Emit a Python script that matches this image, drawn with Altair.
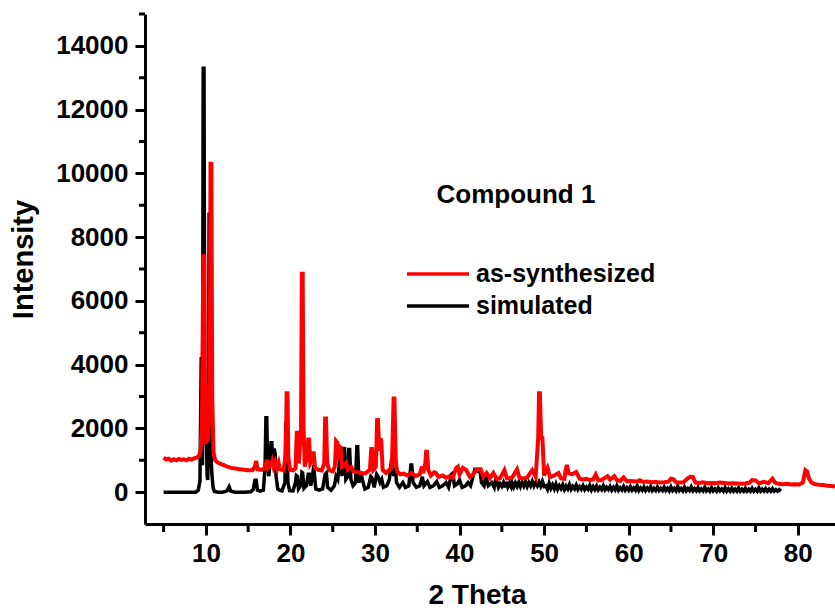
import altair as alt
import pandas as pd

# ---- data ----
as_synthesized = [
    (5.0, 1080), (5.3, 1020), (5.6, 1050), (5.9, 990), (6.2, 1030), (6.5, 1000), (6.8, 1040),
    (7.1, 1010), (7.4, 1030), (7.7, 1000), (8.0, 1050), (8.3, 1020), (8.6, 1060), (8.9, 1080),
    (9.2, 1150), (9.4, 1350), (9.55, 2500), (9.7, 7400), (9.8, 7400), (9.9, 2000), (10.0, 1500),
    (10.15, 3400), (10.25, 1600), (10.45, 3000), (10.55, 10300), (10.65, 10300), (10.75, 3000),
    (10.9, 1250), (11.1, 1000), (11.4, 930), (11.8, 880), (12.2, 840), (12.6, 790), (13.0, 760),
    (13.5, 740), (14.0, 720), (14.5, 700), (15.0, 690), (15.5, 690), (15.8, 800), (15.95, 980),
    (16.1, 720), (16.6, 700), (17.0, 760), (17.2, 1020), (17.35, 760), (17.7, 870), (17.85, 980),
    (18.0, 800), (18.2, 950), (18.4, 760), (18.6, 920), (18.75, 720), (19.2, 680), (19.45, 1200),
    (19.55, 3100), (19.65, 3100), (19.75, 1100), (19.95, 700), (20.3, 680), (20.6, 750),
    (20.75, 1860), (20.85, 1860), (21.0, 900), (21.25, 2000), (21.35, 6850), (21.45, 6850),
    (21.55, 2000), (21.7, 800), (21.95, 1100), (22.1, 1650), (22.2, 1650), (22.35, 900),
    (22.55, 1000), (22.65, 1220), (22.75, 1220), (22.9, 760), (23.3, 700), (23.7, 680), (24.0, 900),
    (24.1, 2310), (24.2, 2310), (24.35, 900), (24.6, 680), (25.0, 650), (25.25, 800), (25.4, 1600),
    (25.55, 1550), (25.7, 1000), (25.85, 1420), (25.95, 1400), (26.1, 800), (26.4, 860),
    (26.6, 920), (26.8, 700), (27.2, 780), (27.5, 640), (28.0, 620), (28.4, 600), (28.8, 580),
    (29.4, 700), (29.55, 1350), (29.65, 1350), (29.8, 700), (30.1, 800), (30.25, 2260),
    (30.35, 2260), (30.5, 1300), (30.65, 1690), (30.75, 1600), (30.9, 700), (31.3, 600),
    (31.7, 700), (32.0, 800), (32.2, 2940), (32.3, 2940), (32.45, 1000), (32.6, 650), (33.0, 560),
    (33.4, 580), (33.8, 520), (34.3, 600), (34.8, 500), (35.3, 560), (35.55, 800), (35.7, 600),
    (35.95, 900), (36.05, 1270), (36.15, 1270), (36.3, 700), (36.6, 520), (37.0, 620), (37.2, 600),
    (37.5, 480), (38.0, 520), (38.4, 450), (38.8, 500), (39.2, 450), (39.6, 760), (39.8, 800),
    (40.0, 560), (40.4, 760), (40.8, 690), (41.2, 480), (41.6, 560), (42.0, 720), (42.5, 720),
    (42.8, 480), (43.2, 600), (43.6, 440), (44.0, 600), (44.4, 420), (44.8, 440), (45.3, 690),
    (45.6, 430), (46.2, 450), (46.8, 720), (47.1, 440), (47.6, 430), (48.0, 460), (48.6, 690),
    (49.0, 480), (49.3, 1700), (49.4, 3100), (49.5, 3100), (49.65, 1690), (49.8, 1690), (50.0, 520),
    (50.4, 760), (50.7, 470), (51.2, 520), (51.7, 600), (52.0, 430), (52.4, 420), (52.55, 700),
    (52.7, 850), (52.9, 600), (53.3, 560), (53.8, 630), (54.2, 420), (54.6, 400), (55.0, 420),
    (55.4, 380), (55.8, 400), (56.1, 550), (56.4, 370), (56.8, 380), (57.5, 500), (57.8, 390),
    (58.3, 500), (58.6, 380), (59.0, 350), (59.4, 460), (59.8, 340), (60.2, 350), (60.6, 340),
    (61.0, 330), (61.3, 370), (61.7, 320), (62.2, 330), (62.7, 310), (63.2, 320), (63.7, 300),
    (64.2, 310), (64.7, 330), (65.0, 420), (65.3, 400), (65.6, 310), (66.0, 300), (66.5, 310),
    (67.0, 440), (67.3, 480), (67.6, 470), (67.9, 300), (68.3, 290), (68.8, 310), (69.3, 280),
    (69.8, 290), (70.3, 280), (70.8, 300), (71.3, 290), (71.8, 270), (72.3, 280), (72.8, 270),
    (73.3, 260), (73.8, 270), (74.3, 300), (74.6, 380), (75.0, 370), (75.4, 280), (76.0, 320),
    (76.5, 280), (77.0, 420), (77.3, 300), (77.7, 260), (78.2, 250), (78.7, 260), (79.2, 240),
    (79.7, 250), (80.2, 240), (80.6, 300), (80.9, 690), (81.1, 650), (81.3, 440), (81.6, 300),
    (82.0, 250), (82.5, 230), (83.0, 220), (83.5, 200), (84.0, 190), (84.4, 180),
]

simulated = [
    (5.0, 0), (6.0, 0), (7.0, 0), (8.0, 0), (8.8, 0), (9.1, 60), (9.3, 350), (9.45, 4240),
    (9.52, 900), (9.6, 900), (9.68, 13300), (9.78, 13300), (9.88, 1500), (10.05, 1700),
    (10.15, 500), (10.22, 380), (10.32, 2000), (10.38, 8720), (10.46, 8720), (10.56, 1500),
    (10.7, 600), (10.85, 150), (11.0, 20), (11.5, 0), (12.0, 0), (12.5, 40), (12.75, 170),
    (12.95, 30), (13.5, 0), (14.5, 0), (15.3, 10), (15.6, 80), (15.8, 375), (15.95, 375),
    (16.1, 60), (16.4, 30), (16.8, 60), (17.0, 800), (17.1, 2330), (17.2, 2330), (17.3, 800),
    (17.45, 500), (17.6, 1000), (17.7, 1550), (17.8, 1550), (17.9, 900), (18.0, 1320),
    (18.1, 1320), (18.2, 1200), (18.3, 500), (18.5, 100), (18.7, 60), (19.0, 40), (19.35, 300),
    (19.45, 2150), (19.55, 2150), (19.7, 300), (19.9, 50), (20.3, 40), (20.6, 300), (20.7, 520),
    (20.8, 500), (20.95, 100), (21.2, 200), (21.35, 620), (21.45, 600), (21.6, 120), (21.9, 200),
    (22.1, 560), (22.25, 560), (22.4, 200), (22.6, 500), (22.7, 700), (22.8, 650), (23.0, 100),
    (23.4, 60), (23.8, 100), (24.1, 550), (24.25, 600), (24.4, 150), (24.8, 60), (25.2, 200),
    (25.4, 500), (25.6, 400), (25.75, 800), (25.85, 1370), (25.95, 1370), (26.1, 500),
    (26.3, 1370), (26.4, 1370), (26.55, 400), (26.8, 500), (26.9, 1340), (27.0, 1340),
    (27.15, 400), (27.4, 200), (27.7, 300), (27.85, 1420), (27.95, 1420), (28.1, 300),
    (28.35, 600), (28.5, 400), (28.8, 100), (29.2, 150), (29.5, 490), (29.65, 450), (29.9, 150),
    (30.2, 560), (30.35, 500), (30.6, 300), (30.8, 400), (31.0, 150), (31.4, 200), (31.7, 400),
    (31.95, 1000), (32.05, 1000), (32.2, 500), (32.4, 750), (32.55, 300), (32.9, 150),
    (33.3, 300), (33.6, 150), (34.0, 200), (34.25, 850), (34.35, 850), (34.5, 300), (34.9, 150),
    (35.3, 200), (35.6, 480), (35.8, 200), (36.2, 330), (36.5, 150), (36.9, 200), (37.3, 330),
    (37.6, 150), (38.0, 200), (38.4, 300), (38.7, 150), (39.05, 560), (39.2, 590), (39.4, 200),
    (39.7, 250), (40.0, 380), (40.3, 150), (40.7, 200), (41.0, 300), (41.3, 200), (41.6, 500),
    (41.8, 700), (42.1, 650), (42.4, 690), (42.6, 300), (42.9, 200), (43.1, 500), (43.4, 200),
    (43.8, 300), (44.1, 150), (44.3, 450), (44.6, 150), (44.8, 260), (45.0, 180), (45.2, 300),
    (45.4, 150), (45.5, 320), (45.7, 160), (45.9, 280), (46.1, 170), (46.2, 300), (46.4, 160),
    (46.6, 290), (46.8, 180), (47.0, 310), (47.2, 170), (47.4, 300), (47.6, 190), (47.8, 330),
    (48.0, 180), (48.2, 300), (48.4, 200), (48.6, 340), (48.8, 190), (49.0, 300), (49.2, 200),
    (49.4, 320), (49.6, 190), (49.8, 340), (50.0, 180), (50.2, 200), (50.4, 90), (50.6, 280),
    (50.8, 120), (51.0, 230), (51.2, 100), (51.4, 250), (51.6, 90), (51.8, 200), (52.0, 110),
    (52.2, 230), (52.4, 80), (52.6, 190), (52.8, 100), (53.0, 240), (53.2, 90), (53.4, 180),
    (53.6, 100), (53.8, 220), (54.0, 80), (54.2, 170), (54.4, 90), (54.6, 200), (54.8, 80),
    (55.0, 160), (55.2, 90), (55.4, 210), (55.6, 70), (55.8, 170), (56.0, 80), (56.2, 190),
    (56.4, 70), (56.6, 150), (56.8, 80), (57.0, 200), (57.2, 70), (57.4, 150), (57.6, 80),
    (57.8, 180), (58.0, 60), (58.2, 150), (58.4, 70), (58.6, 200), (58.8, 60), (59.0, 140),
    (59.2, 70), (59.4, 180), (59.6, 60), (59.8, 140), (60.0, 60), (60.2, 170), (60.4, 60),
    (60.6, 130), (60.8, 60), (61.0, 190), (61.2, 50), (61.4, 130), (61.6, 60), (61.8, 160),
    (62.0, 50), (62.2, 130), (62.4, 60), (62.6, 170), (62.8, 50), (63.0, 120), (63.2, 50),
    (63.4, 160), (63.6, 50), (63.8, 120), (64.0, 50), (64.2, 150), (64.4, 50), (64.6, 120),
    (64.8, 40), (65.0, 160), (65.2, 50), (65.4, 110), (65.6, 40), (65.8, 180), (66.0, 50),
    (66.2, 110), (66.4, 40), (66.6, 150), (66.8, 40), (67.0, 110), (67.2, 50), (67.4, 160),
    (67.6, 40), (67.8, 110), (68.0, 40), (68.2, 140), (68.4, 40), (68.6, 100), (68.8, 40),
    (69.0, 150), (69.2, 40), (69.4, 100), (69.6, 30), (69.8, 140), (70.0, 40), (70.2, 100),
    (70.4, 30), (70.6, 130), (70.8, 40), (71.0, 100), (71.2, 30), (71.4, 140), (71.6, 30),
    (71.8, 100), (72.0, 30), (72.2, 120), (72.4, 30), (72.6, 90), (72.8, 30), (73.0, 130),
    (73.2, 30), (73.4, 90), (73.6, 30), (73.8, 120), (74.0, 30), (74.2, 90), (74.4, 30),
    (74.6, 120), (74.8, 30), (75.0, 90), (75.2, 30), (75.4, 130), (75.6, 30), (75.8, 90),
    (76.0, 30), (76.2, 110), (76.4, 30), (76.6, 90), (76.8, 30), (77.0, 110), (77.2, 30),
    (77.4, 80), (77.6, 30), (77.8, 80), (78.0, 30),
]

x_major = [10, 20, 30, 40, 50, 60, 70, 80]
x_minor = [5, 15, 25, 35, 45, 55, 65, 75]
y_major = [0, 2000, 4000, 6000, 8000, 10000, 12000, 14000]
y_minor = [1000, 3000, 5000, 7000, 9000, 11000, 13000, 15000]
x_domain = [2.8, 84.4]
y_domain = [-1000, 15000]
legend_labels = ["as-synthesized", "simulated"]
legend_colors = ["#ff0000", "#000000"]
annotation = "Compound 1"

FONT = "Liberation Sans"

red_df = pd.DataFrame(as_synthesized, columns=["theta", "intensity"])
blk_df = pd.DataFrame(simulated, columns=["theta", "intensity"])

xscale = alt.Scale(domain=x_domain, nice=False, zero=False)
yscale = alt.Scale(domain=y_domain, nice=False, zero=False)

x_axis = alt.Axis(
    values=x_major, format="d", grid=False, title="2 Theta",
    domainColor="black", domainWidth=3, tickColor="black", tickWidth=3, tickSize=11,
    labelFont=FONT, labelFontWeight="bold", labelFontSize=26, labelColor="black", labelPadding=5,
    titleFont=FONT, titleFontWeight="bold", titleFontSize=28, titleColor="black",
    titleX=332, titleY=79, titleBaseline="alphabetic", titleAlign="center",
)
y_axis = alt.Axis(
    values=y_major, format="d", grid=False, title="Intensity",
    domainColor="black", domainWidth=3, tickColor="black", tickWidth=3, tickSize=10,
    labelFont=FONT, labelFontWeight="bold", labelFontSize=26, labelColor="black", labelPadding=7,
    titleFont=FONT, titleFontWeight="bold", titleFontSize=29, titleColor="black",
    titleX=-122, titleY=245, titleAlign="center", titleBaseline="middle", titleAngle=270,
)

X = alt.X("theta:Q", scale=xscale, axis=x_axis, title="2 Theta")
Y = alt.Y("intensity:Q", scale=yscale, axis=y_axis, title="Intensity")

black_line = alt.Chart(blk_df).mark_line(color=legend_colors[1], strokeWidth=3.5).encode(x=X, y=Y)
red_line = alt.Chart(red_df).mark_line(color=legend_colors[0], strokeWidth=4).encode(x=X, y=Y)

ymin_ticks = alt.Chart(pd.DataFrame({"intensity": y_minor})).mark_rule(
    color="black", strokeWidth=3
).encode(y=Y, x=alt.value(-6), x2=alt.value(0))
xmin_ticks = alt.Chart(pd.DataFrame({"theta": x_minor})).mark_rule(
    color="black", strokeWidth=3
).encode(x=X, y=alt.value(510), y2=alt.value(518))

title_text = alt.Chart(pd.DataFrame({"t": [annotation]})).mark_text(
    font=FONT, fontWeight="bold", fontSize=26, color="black", align="center", baseline="alphabetic"
).encode(text="t:N", x=alt.value(371), y=alt.value(189))

leg_layers = []
for i, (lab, col) in enumerate(zip(legend_labels, legend_colors)):
    yy = 260 + 32 * i
    leg_layers.append(
        alt.Chart(pd.DataFrame({"t": [lab]})).mark_rule(color=col, strokeWidth=3.5).encode(
            x=alt.value(262), x2=alt.value(324), y=alt.value(yy)
        )
    )
    leg_layers.append(
        alt.Chart(pd.DataFrame({"t": [lab]})).mark_text(
            font=FONT, fontWeight="bold", fontSize=25, color="black", align="left", baseline="alphabetic"
        ).encode(text="t:N", x=alt.value(331), y=alt.value(yy + 8))
    )

chart = alt.layer(
    black_line, red_line, ymin_ticks, xmin_ticks, title_text, *leg_layers
).properties(
    width=690, height=510,
    autosize=alt.AutoSizeParams(type="none"),
    padding={"left": 145, "top": 14, "right": 0, "bottom": 86},
    background="white",
).configure_view(stroke=None)

chart.save("out.html", embed_options={"renderer": "svg", "actions": False})
